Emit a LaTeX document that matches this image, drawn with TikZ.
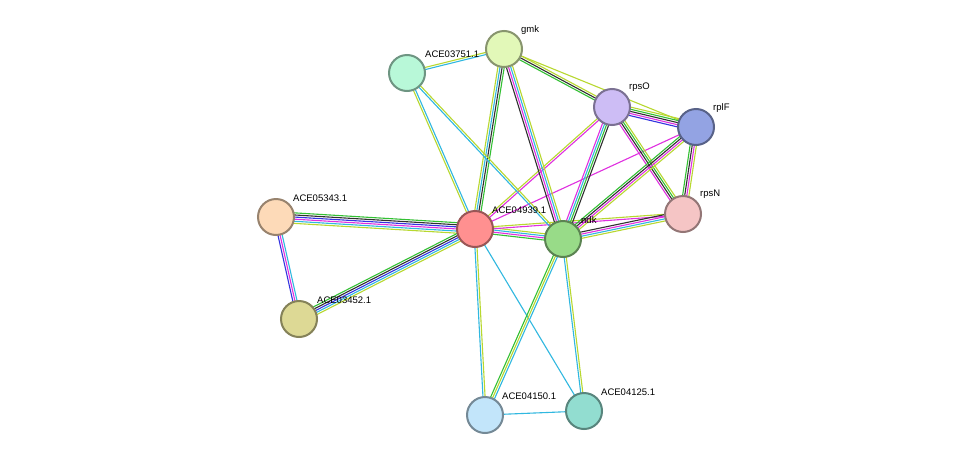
\documentclass[tikz,border=0pt]{standalone}
\usepackage{fontspec}
\setmainfont{Liberation Sans}
\usetikzlibrary{calc}
\definecolor{cgreen}{HTML}{33C033}
\definecolor{cblue}{HTML}{3333E0}
\definecolor{cblack}{HTML}{303030}
\definecolor{cmag}{HTML}{E030E0}
\definecolor{ccyan}{HTML}{30B8E0}
\definecolor{cyel}{HTML}{B8D830}
\definecolor{fgmk}{HTML}{E2F8B8}
\definecolor{f3751}{HTML}{B8F8D8}
\definecolor{frpsO}{HTML}{CDBDF5}
\definecolor{frplF}{HTML}{93A3E3}
\definecolor{frpsN}{HTML}{F5C5C5}
\definecolor{f4939}{HTML}{FF9090}
\definecolor{fndk}{HTML}{98DB88}
\definecolor{f5343}{HTML}{FDDAB8}
\definecolor{f3452}{HTML}{DDD995}
\definecolor{f4150}{HTML}{C2E5FA}
\definecolor{f4125}{HTML}{92DDD0}
\newcommand{\E}[4]{% a b n colors
  \foreach \c [count=\i] in {#4}{%
    \pgfmathsetmacro{\o}{(\i-(#3+1)/2)*2.1}%
    \draw[\c,line width=1.1pt] ($(#1)!\o pt!90:(#2)$) -- ($(#2)!\o pt!-90:(#1)$);
  }}
\tikzset{
  prot/.style={circle,minimum size=36pt,inner sep=0pt,fill=#1,draw=#1!60!black,line width=2pt},
  lab/.style={anchor=south west,font=\fontsize{9.5}{11}\selectfont,inner sep=0pt}
}
\begin{document}
\begin{tikzpicture}[x=1pt,y=-1pt]
\useasboundingbox[fill=white] (0,0) rectangle (976,461);
\coordinate (gmk) at (504,49);
\coordinate (a3751) at (407,73);
\coordinate (rpsO) at (612,107);
\coordinate (rplF) at (696,127);
\coordinate (rpsN) at (683,214);
\coordinate (a4939) at (475,229);
\coordinate (ndk) at (563,239);
\coordinate (a5343) at (276,217);
\coordinate (a3452) at (299,319);
\coordinate (a4150) at (485,415);
\coordinate (a4125) at (584,411);
\E{a4939}{a5343}{6}{cgreen,cblack,cblue,cmag,ccyan,cyel}
\E{a4939}{a3452}{5}{cgreen,cblack,cblue,ccyan,cyel}
\E{a5343}{a3452}{3}{cblue,cmag,ccyan}
\E{a4939}{gmk}{4}{cgreen,cblack,ccyan,cyel}
\E{a4939}{a3751}{2}{ccyan,cyel}
\E{a4939}{rpsO}{2}{cmag,cyel}
\E{a4939}{rplF}{1}{cmag}
\E{a4939}{ndk}{4}{cgreen,cmag,ccyan,cyel}
\E{a4939}{rpsN}{2}{cmag,cyel}
\E{a4939}{a4150}{2}{ccyan,cyel}
\E{a4939}{a4125}{1}{ccyan}
\E{a3751}{gmk}{2}{ccyan,cyel}
\E{a3751}{ndk}{2}{ccyan,cyel}
\E{gmk}{ndk}{4}{cblack,cmag,ccyan,cyel}
\E{gmk}{rpsO}{3}{cgreen,cblack,cyel}
\E{gmk}{rplF}{1}{cyel}
\E{rpsO}{rplF}{5}{cblue,cmag,cblack,cgreen,cyel}
\E{rpsO}{rpsN}{4}{cmag,cblack,cgreen,cyel}
\E{rpsO}{ndk}{4}{cmag,ccyan,cgreen,cblack}
\E{rplF}{rpsN}{4}{cgreen,cblack,cmag,cyel}
\E{rplF}{ndk}{4}{cgreen,cblack,cmag,cyel}
\E{rpsN}{ndk}{4}{cblack,cmag,ccyan,cyel}
\E{ndk}{a4150}{3}{cgreen,cyel,ccyan}
\E{ndk}{a4125}{2}{ccyan,cyel}
\E{a4150}{a4125}{1}{ccyan}
\node[prot=fgmk] (ngmk) at (gmk) {};
\node[prot=f3751] (n3751) at (a3751) {};
\node[prot=frpsO] (nrpsO) at (rpsO) {};
\node[prot=frplF] (nrplF) at (rplF) {};
\node[prot=frpsN] (nrpsN) at (rpsN) {};
\node[prot=f4939] (n4939) at (a4939) {};
\node[prot=fndk] (nndk) at (ndk) {};
\node[prot=f5343] (n5343) at (a5343) {};
\node[prot=f3452] (n3452) at (a3452) {};
\node[prot=f4150] (n4150) at (a4150) {};
\node[prot=f4125] (n4125) at (a4125) {};
\node[lab] (lgmk) at ($(gmk)+(17,-14)$) {gmk};
\node[lab] (l3751) at ($(a3751)+(18,-15)$) {ACE03751.1};
\node[lab] (lrpsO) at ($(rpsO)+(17,-15)$) {rpsO};
\node[lab] (lrplF) at ($(rplF)+(17,-14)$) {rplF};
\node[lab] (lrpsN) at ($(rpsN)+(17,-15)$) {rpsN};
\node[lab] (l4939) at ($(a4939)+(17,-15)$) {ACE04939.1};
\node[lab] (lndk) at ($(ndk)+(18,-15)$) {ndk};
\node[lab] (l5343) at ($(a5343)+(17,-15)$) {ACE05343.1};
\node[lab] (l3452) at ($(a3452)+(18,-15)$) {ACE03452.1};
\node[lab] (l4150) at ($(a4150)+(17,-15)$) {ACE04150.1};
\node[lab] (l4125) at ($(a4125)+(17,-15)$) {ACE04125.1};
\end{tikzpicture}
\end{document}
